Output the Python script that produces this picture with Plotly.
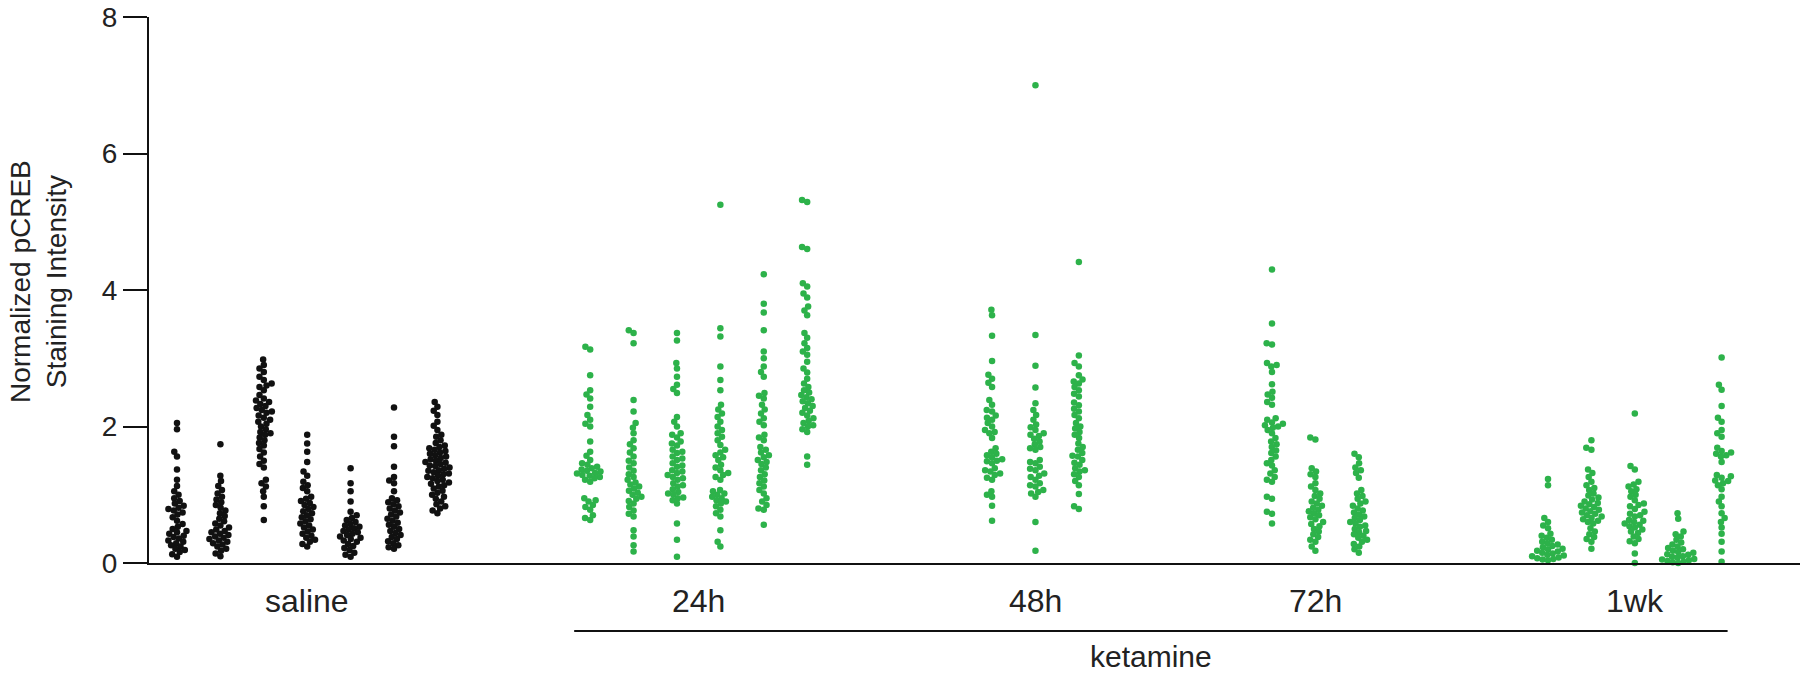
import math
import plotly.graph_objects as go

# pCREB staining intensity, one list per animal (column)
saline = [
    [2.05, 1.96, 1.63, 1.56, 1.37, 1.22, 1.13, 1.05, 1.0, 0.95, 0.91, 0.87, 0.84, 0.81, 0.79, 0.77, 0.74, 0.71,
     0.67, 0.62, 0.57, 0.53, 0.5, 0.47, 0.45, 0.43, 0.4, 0.38, 0.36, 0.33, 0.31, 0.29, 0.26, 0.24, 0.21, 0.19,
     0.16, 0.13, 0.09],
    [1.74, 1.28, 1.2, 1.13, 1.07, 1.02, 0.97, 0.93, 0.89, 0.85, 0.81, 0.77, 0.73, 0.69, 0.65, 0.61, 0.58, 0.55,
     0.52, 0.49, 0.47, 0.45, 0.43, 0.41, 0.39, 0.37, 0.35, 0.33, 0.31, 0.29, 0.27, 0.24, 0.21, 0.18, 0.14, 0.1],
    [2.98, 2.9, 2.85, 2.8, 2.73, 2.68, 2.63, 2.6, 2.58, 2.53, 2.46, 2.41, 2.38, 2.36, 2.33, 2.3, 2.27, 2.24,
     2.22, 2.2, 2.16, 2.13, 2.1, 2.07, 2.04, 2.0, 1.96, 1.92, 1.9, 1.88, 1.84, 1.8, 1.76, 1.72, 1.67, 1.62,
     1.56, 1.5, 1.45, 1.4, 1.22, 1.17, 1.12, 1.05, 0.97, 0.83, 0.63],
    [1.88, 1.75, 1.63, 1.48, 1.34, 1.28, 1.19, 1.14, 1.1, 1.05, 0.97, 0.94, 0.91, 0.88, 0.85, 0.82, 0.79, 0.76,
     0.73, 0.7, 0.67, 0.64, 0.61, 0.58, 0.55, 0.52, 0.49, 0.46, 0.43, 0.4, 0.37, 0.34, 0.31, 0.28, 0.24],
    [1.39, 1.17, 1.05, 0.9, 0.75, 0.7, 0.66, 0.63, 0.6, 0.57, 0.55, 0.53, 0.51, 0.49, 0.47, 0.45, 0.43, 0.41,
     0.39, 0.37, 0.35, 0.33, 0.31, 0.28, 0.25, 0.22, 0.19, 0.15, 0.12, 0.09],
    [2.28, 1.85, 1.71, 1.41, 1.26, 1.21, 1.17, 1.05, 0.95, 0.92, 0.89, 0.86, 0.83, 0.8, 0.77, 0.74, 0.71, 0.68,
     0.65, 0.62, 0.59, 0.56, 0.53, 0.5, 0.47, 0.44, 0.41, 0.38, 0.35, 0.32, 0.29, 0.26, 0.23, 0.21],
    [2.36, 2.29, 2.23, 2.17, 2.07, 2.01, 1.95, 1.88, 1.85, 1.8, 1.76, 1.72, 1.7, 1.68, 1.66, 1.64, 1.62, 1.6,
     1.58, 1.56, 1.54, 1.52, 1.5, 1.48, 1.47, 1.45, 1.43, 1.42, 1.4, 1.38, 1.36, 1.35, 1.33, 1.31, 1.3, 1.28,
     1.26, 1.24, 1.22, 1.2, 1.18, 1.16, 1.14, 1.12, 1.09, 1.06, 1.03, 1.0, 0.97, 0.94, 0.9, 0.86, 0.83, 0.8,
     0.77, 0.73],
]
ketamine_24h = [
    [3.17, 3.13, 2.75, 2.53, 2.47, 2.41, 2.29, 2.17, 2.1, 2.04, 2.0, 1.78, 1.63, 1.57, 1.51, 1.46, 1.44, 1.41,
     1.39, 1.37, 1.35, 1.34, 1.32, 1.31, 1.29, 1.28, 1.26, 1.24, 1.22, 1.19, 0.95, 0.92, 0.9, 0.85, 0.82, 0.78,
     0.7, 0.66, 0.63],
    [3.41, 3.37, 3.22, 2.39, 2.22, 2.05, 1.98, 1.9, 1.8, 1.74, 1.68, 1.62, 1.56, 1.5, 1.46, 1.4, 1.35, 1.3,
     1.26, 1.22, 1.18, 1.15, 1.12, 1.09, 1.06, 1.03, 1.0, 0.97, 0.94, 0.91, 0.87, 0.82, 0.77, 0.72, 0.68, 0.48,
     0.39, 0.26, 0.17],
    [3.37, 3.26, 2.93, 2.85, 2.73, 2.61, 2.55, 2.49, 2.14, 2.07, 2.0, 1.9, 1.88, 1.84, 1.78, 1.75, 1.72, 1.66,
     1.63, 1.61, 1.56, 1.53, 1.51, 1.46, 1.43, 1.41, 1.36, 1.34, 1.32, 1.29, 1.26, 1.24, 1.22, 1.17, 1.14,
     1.12, 1.08, 1.04, 1.02, 1.0, 0.96, 0.95, 0.92, 0.87, 0.58, 0.34, 0.09],
    [5.25, 3.44, 3.32, 2.88, 2.68, 2.53, 2.32, 2.25, 2.19, 2.14, 2.07, 2.0, 1.95, 1.9, 1.85, 1.8, 1.73, 1.66,
     1.62, 1.58, 1.55, 1.51, 1.44, 1.4, 1.36, 1.32, 1.29, 1.26, 1.22, 1.07, 1.05, 1.02, 1.0, 0.97, 0.95, 0.92,
     0.9, 0.87, 0.83, 0.78, 0.73, 0.68, 0.48, 0.31, 0.24],
    [4.23, 3.8, 3.67, 3.41, 3.1, 3.0, 2.88, 2.8, 2.73, 2.49, 2.45, 2.41, 2.32, 2.25, 2.19, 2.12, 2.07, 2.02,
     1.88, 1.84, 1.8, 1.7, 1.66, 1.62, 1.58, 1.55, 1.51, 1.48, 1.45, 1.4, 1.36, 1.3, 1.26, 1.21, 1.17, 1.12,
     1.07, 1.02, 0.95, 0.9, 0.85, 0.8, 0.78, 0.56],
    [5.32, 5.29, 4.63, 4.6, 4.1, 4.05, 3.95, 3.89, 3.76, 3.7, 3.63, 3.37, 3.3, 3.22, 3.15, 3.1, 3.05, 2.95,
     2.85, 2.79, 2.7, 2.63, 2.58, 2.53, 2.5, 2.46, 2.43, 2.4, 2.37, 2.34, 2.3, 2.27, 2.23, 2.2, 2.16, 2.12,
     2.08, 2.05, 2.02, 2.0, 1.96, 1.92, 1.56, 1.44],
]
ketamine_48h = [
    [3.71, 3.63, 3.33, 2.96, 2.76, 2.7, 2.64, 2.58, 2.39, 2.32, 2.24, 2.22, 2.16, 2.13, 2.1, 2.05, 2.0, 1.95,
     1.92, 1.9, 1.83, 1.68, 1.63, 1.6, 1.58, 1.55, 1.52, 1.5, 1.49, 1.46, 1.39, 1.36, 1.34, 1.31, 1.29, 1.25,
     1.22, 1.05, 1.0, 0.97, 0.84, 0.62],
    [7.0, 3.34, 2.89, 2.57, 2.34, 2.24, 2.17, 2.1, 2.03, 1.99, 1.95, 1.9, 1.88, 1.86, 1.82, 1.78, 1.74, 1.7,
     1.68, 1.66, 1.51, 1.48, 1.46, 1.41, 1.38, 1.36, 1.31, 1.28, 1.26, 1.22, 1.17, 1.14, 1.12, 1.07, 1.04,
     1.02, 0.97, 0.6, 0.18],
    [4.41, 3.04, 2.93, 2.88, 2.75, 2.69, 2.66, 2.63, 2.58, 2.53, 2.48, 2.44, 2.35, 2.31, 2.26, 2.22, 2.17,
     2.12, 2.05, 2.0, 1.97, 1.92, 1.88, 1.83, 1.75, 1.7, 1.66, 1.61, 1.57, 1.56, 1.51, 1.47, 1.44, 1.39, 1.36,
     1.34, 1.3, 1.26, 1.2, 1.14, 1.01, 0.83, 0.79],
]
ketamine_72h = [
    [4.3, 3.51, 3.22, 3.2, 2.93, 2.9, 2.88, 2.8, 2.62, 2.51, 2.47, 2.42, 2.36, 2.32, 2.12, 2.1, 2.06, 2.04,
     2.02, 2.0, 1.98, 1.95, 1.9, 1.83, 1.78, 1.74, 1.7, 1.65, 1.61, 1.56, 1.51, 1.46, 1.43, 1.36, 1.31, 1.26,
     1.22, 1.19, 0.97, 0.94, 0.75, 0.72, 0.58],
    [1.84, 1.81, 1.39, 1.34, 1.3, 1.26, 1.17, 1.12, 1.07, 1.02, 0.98, 0.94, 0.9, 0.87, 0.84, 0.81, 0.78, 0.76,
     0.73, 0.7, 0.67, 0.64, 0.6, 0.57, 0.54, 0.5, 0.46, 0.42, 0.38, 0.34, 0.31, 0.24, 0.18],
    [1.6, 1.55, 1.46, 1.4, 1.36, 1.32, 1.25, 1.07, 1.02, 0.98, 0.94, 0.9, 0.87, 0.84, 0.8, 0.77, 0.74, 0.71,
     0.68, 0.66, 0.63, 0.6, 0.58, 0.55, 0.53, 0.5, 0.47, 0.45, 0.42, 0.4, 0.37, 0.34, 0.31, 0.28, 0.24, 0.2,
     0.15],
]
ketamine_1wk = [
    [1.23, 1.14, 0.66, 0.6, 0.55, 0.51, 0.43, 0.4, 0.37, 0.34, 0.31, 0.29, 0.27, 0.25, 0.23, 0.21, 0.2, 0.18,
     0.17, 0.15, 0.14, 0.12, 0.11, 0.1, 0.08, 0.07, 0.06, 0.05, 0.04],
    [1.8, 1.69, 1.66, 1.37, 1.32, 1.26, 1.19, 1.14, 1.1, 1.07, 1.02, 0.99, 0.96, 0.93, 0.9, 0.88, 0.86, 0.84,
     0.82, 0.8, 0.78, 0.76, 0.74, 0.72, 0.7, 0.68, 0.66, 0.64, 0.62, 0.6, 0.58, 0.51, 0.46, 0.42, 0.38, 0.35,
     0.31, 0.21],
    [2.19, 1.42, 1.37, 1.19, 1.15, 1.12, 1.08, 1.05, 1.0, 0.97, 0.92, 0.87, 0.85, 0.83, 0.79, 0.75, 0.72, 0.7,
     0.68, 0.63, 0.62, 0.6, 0.58, 0.56, 0.54, 0.52, 0.49, 0.46, 0.44, 0.39, 0.35, 0.32, 0.29, 0.14, 0.0],
    [0.73, 0.65, 0.46, 0.42, 0.39, 0.34, 0.3, 0.27, 0.24, 0.22, 0.2, 0.18, 0.16, 0.15, 0.13, 0.12, 0.1, 0.09,
     0.08, 0.06, 0.05, 0.04, 0.03, 0.02, 0.01, 0.0],
    [3.01, 2.61, 2.54, 2.3, 2.13, 2.07, 1.95, 1.9, 1.85, 1.69, 1.64, 1.62, 1.6, 1.58, 1.56, 1.48, 1.29, 1.27,
     1.25, 1.21, 1.2, 1.17, 1.14, 1.08, 0.97, 0.9, 0.83, 0.73, 0.66, 0.6, 0.52, 0.43, 0.31, 0.17, 0.02],
]

group_names = ["saline", "24h", "48h", "72h", "1wk"]
groups = [saline, ketamine_24h, ketamine_48h, ketamine_72h, ketamine_1wk]

# layout: x in "column slots" (one slot = 43.4 px), first column of each group
group_start = [0, 9.52, 18.78, 25.23, 31.59]
slot_px = 43.4
y_px = 546 / 8
dot = 6.5      # marker diameter
gap = 5.5      # spacing used by the swarm (dots may overlap a little)

BLACK = "#111111"
GREEN = "#2DB24A"
FONT = "Arial, Liberation Sans, sans-serif"


def swarm(vals):
    # simple beeswarm: each point goes as close to the centre as it can without overlapping
    order = sorted(range(len(vals)), key=lambda i: vals[i])
    placed = []
    offs = [0.0] * len(vals)
    for i in order:
        y = vals[i] * y_px
        near = [(px, py) for px, py in placed if abs(py - y) < gap]
        cands = [0.0]
        for px, py in near:
            dx = math.sqrt(gap * gap - (py - y) ** 2)
            cands += [px + dx, px - dx]
        cands.sort(key=lambda c: (round(abs(c), 6), c))
        for c in cands:
            if all((c - px) ** 2 + (y - py) ** 2 >= gap * gap - 1e-6 for px, py in near):
                break
        placed.append((c, y))
        offs[i] = c
    return offs


fig = go.Figure()
for g, (name, cols) in enumerate(zip(group_names, groups)):
    color = BLACK if name == "saline" else GREEN
    for j, vals in enumerate(cols):
        x0 = group_start[g] + j
        xs = [x0 + o / slot_px for o in swarm(vals)]
        fig.add_trace(go.Scatter(
            x=xs, y=vals, mode="markers", showlegend=False, cliponaxis=False,
            marker=dict(color=color, size=dot, line=dict(width=0)),
        ))

x_left = -28 / slot_px
x_right = x_left + 1651 / slot_px

annotations = []
for g, (name, cols) in enumerate(zip(group_names, groups)):
    annotations.append(dict(
        x=group_start[g] + (len(cols) - 1) / 2, y=0, xref="x", yref="paper",
        yanchor="middle", yshift=-38, text=name, showarrow=False,
        font=dict(size=32, color="#222", family=FONT),
    ))

br_x0 = group_start[1] - 16 / slot_px
br_x1 = group_start[4] + len(ketamine_1wk) - 1 + 6 / slot_px
annotations.append(dict(
    x=(br_x0 + br_x1) / 2, y=0, xref="x", yref="paper", yanchor="middle", yshift=-93,
    text="ketamine", showarrow=False, font=dict(size=30, color="#222", family=FONT),
))
annotations.append(dict(
    x=0, y=0.5, xref="paper", yref="paper", xanchor="center", yanchor="middle",
    xshift=-111, yshift=8, textangle=-90, showarrow=False,
    text="Normalized pCREB<br>Staining Intensity",
    font=dict(size=28, color="#222", family=FONT),
))

fig.update_layout(
    width=1800, height=674,
    margin=dict(l=149, r=0, t=17, b=111),
    plot_bgcolor="white", paper_bgcolor="white",
    font=dict(family=FONT, color="#222"),
    annotations=annotations,
    shapes=[dict(type="line", xref="x", yref="paper", x0=br_x0, x1=br_x1,
                 y0=-68 / 546, y1=-68 / 546, line=dict(color="#111", width=2))],
    xaxis=dict(range=[x_left, x_right], showgrid=False, zeroline=False, showticklabels=False,
               ticks="", showline=True, linecolor="#111", linewidth=2, automargin=False),
    yaxis=dict(range=[0, 8], tickvals=[0, 2, 4, 6, 8], showgrid=False, zeroline=False,
               showline=True, linecolor="#111", linewidth=2, ticks="outside", ticklen=24,
               tickwidth=2, tickcolor="#111", automargin=False,
               tickfont=dict(size=28, color="#222", family=FONT)),
)

# drop the browser's default 8px body margin so the figure sits flush in the window
fig.write_html("out.html", config={"displayModeBar": False},
               post_script="document.body.style.margin='0';")
